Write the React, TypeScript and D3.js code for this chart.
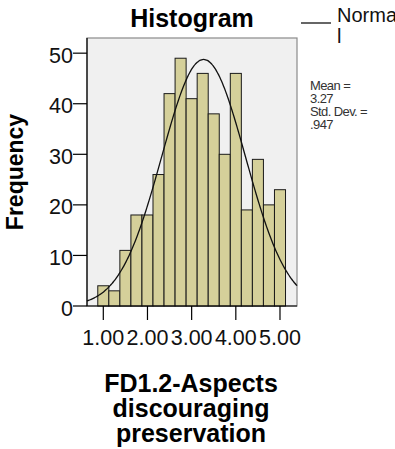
import React from "react";
import * as d3 from "d3";

// Histogram bins (centres every 0.25) and their counts
const binCenters = [1.0, 1.25, 1.5, 1.75, 2.0, 2.25, 2.5, 2.75, 3.0, 3.25, 3.5, 3.75, 4.0, 4.25, 4.5, 4.75, 5.0];
const counts = [4, 3, 11, 18, 18, 26, 42, 49, 41, 46, 38, 30, 46, 19, 29, 20, 23];
const binWidth = 0.25;
const xTicks = [1, 2, 3, 4, 5];
const yTicks = [0, 10, 20, 30, 40, 50];
const mean = 3.27;
const stdDev = 0.947;
const statLines = ["Mean =", "3.27", "Std. Dev. =", ".947"];
const xTitleLines = ["FD1.2-Aspects", "discouraging", "preservation"];

const W = 395;
const H = 449;
const plot = { left: 87, right: 297, top: 38, bottom: 306 };
const FONT = "'Liberation Sans', Arial, Helvetica, sans-serif";

export default function App() {
  const x = d3.scaleLinear().domain([0.631, 5.385]).range([plot.left, plot.right]);
  const y = d3.scaleLinear().domain([0, 53]).range([plot.bottom, plot.top]);

  const n = d3.sum(counts);
  const normal = (v: number) =>
    (n * binWidth * Math.exp(-0.5 * ((v - mean) / stdDev) ** 2)) / (stdDev * Math.sqrt(2 * Math.PI));
  const curvePts = d3.range(0, 201).map((i) => {
    const v = x.domain()[0] + ((x.domain()[1] - x.domain()[0]) * i) / 200;
    return [v, normal(v)] as [number, number];
  });
  const line = d3
    .line<[number, number]>()
    .x((d) => x(d[0]))
    .y((d) => y(d[1]))
    .curve(d3.curveBasis);

  return (
    <svg
      width={W}
      height={H}
      style={{ position: "absolute", left: 0, top: 0, background: "#fff" }}
      fontFamily={FONT}
    >
      {/* plot area */}
      <rect
        x={plot.left}
        y={plot.top}
        width={plot.right - plot.left}
        height={plot.bottom - plot.top}
        fill="#f0f0f0"
        stroke="#8a8a8a"
        strokeWidth={1.2}
      />

      {/* bars */}
      {counts.map((c, i) => (
        <rect
          key={i}
          x={x(binCenters[i] - binWidth / 2)}
          y={y(c)}
          width={x(binCenters[i] + binWidth / 2) - x(binCenters[i] - binWidth / 2)}
          height={y(0) - y(c)}
          fill="#d5d09a"
          stroke="#1a1a1a"
          strokeWidth={1}
        />
      ))}

      {/* normal curve */}
      <path d={line(curvePts) || ""} fill="none" stroke="#111" strokeWidth={1.3} />

      {/* axes */}
      <line x1={plot.left} x2={plot.left} y1={plot.top} y2={plot.bottom} stroke="#000" strokeWidth={1.2} />
      <line x1={plot.left} x2={plot.right} y1={plot.bottom} y2={plot.bottom} stroke="#000" strokeWidth={1.2} />

      {yTicks.map((t) => (
        <g key={t}>
          <line x1={plot.left - 14} x2={plot.left} y1={y(t)} y2={y(t)} stroke="#000" strokeWidth={1.2} />
          <text x={plot.left - 14} y={y(t) + 9.5} textAnchor="end" fontSize={21.5} fill="#111">
            {t}
          </text>
        </g>
      ))}

      {xTicks.map((t) => (
        <g key={t}>
          <line x1={x(t)} x2={x(t)} y1={plot.bottom} y2={plot.bottom + 14} stroke="#000" strokeWidth={1.2} />
          <text x={x(t)} y={345} textAnchor="middle" fontSize={21.5} fill="#111">
            {t.toFixed(2)}
          </text>
        </g>
      ))}

      {/* titles */}
      <text x={192} y={27} textAnchor="middle" fontSize={25} fontWeight="bold" fill="#000">
        Histogram
      </text>
      <text
        transform={`translate(23,${(plot.top + plot.bottom) / 2}) rotate(-90)`}
        textAnchor="middle"
        fontSize={23}
        fontWeight="bold"
        fill="#000"
      >
        Frequency
      </text>
      {xTitleLines.map((s, i) => (
        <text key={s} x={191} y={392 + i * 25} textAnchor="middle" fontSize={25} fontWeight="bold" fill="#000">
          {s}
        </text>
      ))}

      {/* legend */}
      <line x1={301} x2={331} y1={23} y2={23} stroke="#000" strokeWidth={1.2} />
      <text x={337} y={22} fontSize={20} fill="#111">
        Norma
      </text>
      <text x={337} y={43} fontSize={20} fill="#111">
        l
      </text>

      {/* summary statistics */}
      {statLines.map((s, i) => (
        <text key={i} x={310} y={90 + i * 13} fontSize={13} fill="#333" letterSpacing={-0.6}>
          {s}
        </text>
      ))}
    </svg>
  );
}
